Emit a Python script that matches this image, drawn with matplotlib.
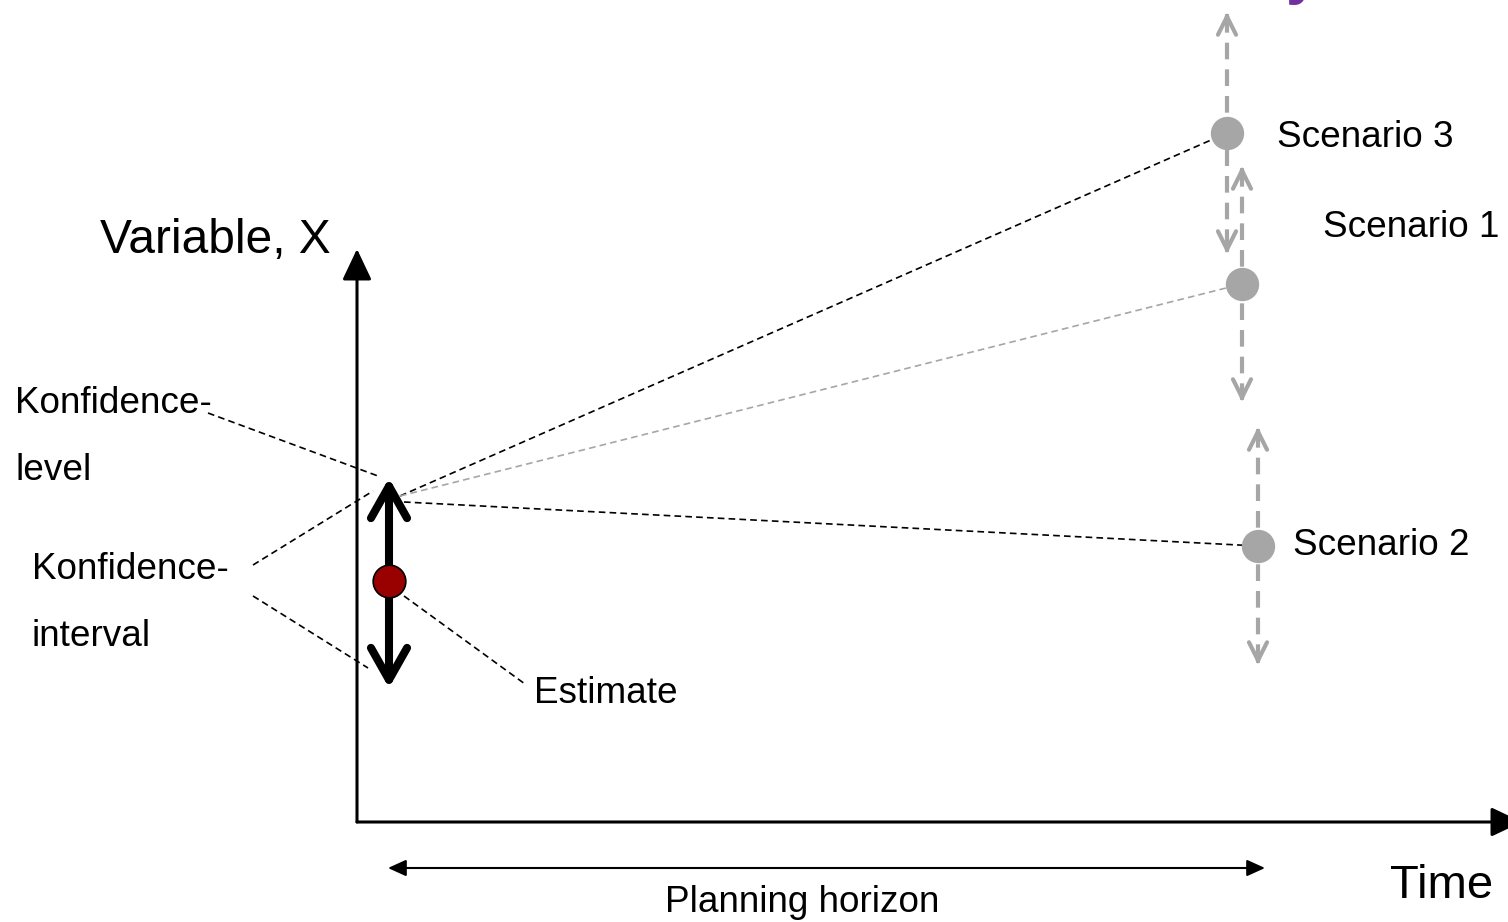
import matplotlib
matplotlib.use("Agg")
import matplotlib.pyplot as plt
from matplotlib.patches import ArrowStyle

plt.rcParams['font.family'] = ['Liberation Sans', 'DejaVu Sans']

# schematic laid out in pixel units of the 1508x922 canvas (y grows downward)
origin = (357, 822)
y_axis_top = 249
x_axis_end = 1522

estimate_x = 389
estimate_y = 581
interval_top = 478
interval_bottom = 688

fan_start = [(400, 496), (400, 496), (404, 502)]
scenario_names = ['Scenario 3', 'Scenario 1', 'Scenario 2']
scenario_x = [1227, 1242, 1258]
scenario_y = [133, 284, 546]
scenario_spread = [121, 118, 119]
scenario_label_x = [1277, 1323, 1293]
scenario_label_y = [147, 237, 555]
fan_colors = ['black', '#A6A6A6', 'black']

horizon_start = 388
horizon_end = 1265
horizon_y = 868

GRAY = '#A6A6A6'
FS = 26.6

fig = plt.figure(figsize=(15.08, 9.22), dpi=100)
ax = fig.add_axes([0, 0, 1, 1])
ax.set_xlim(0, 1508)
ax.set_ylim(922, 0)
ax.axis('off')


def arrow(p0, p1, style, **kw):
    ax.annotate('', xy=p1, xytext=p0, annotation_clip=False,
                arrowprops=dict(arrowstyle=style, shrinkA=0, shrinkB=0,
                                mutation_scale=1, **kw))


# axes of the schematic
arrow(origin, (origin[0], y_axis_top),
      ArrowStyle('-|>', head_length=19, head_width=9), lw=2.2, color='black')
arrow(origin, (x_axis_end, origin[1]),
      ArrowStyle('-|>', head_length=19, head_width=9), lw=2.2, color='black')
ax.text(100, 253, 'Variable, X', fontsize=34.5, va='baseline')
ax.text(1390, 898, 'Time', fontsize=34, va='baseline')

# planning horizon
arrow((horizon_start, horizon_y), (horizon_end, horizon_y),
      ArrowStyle('<|-|>', head_length=11, head_width=5), lw=1.5, color='black')
ax.text(665, 912, 'Planning horizon', fontsize=FS, va='baseline')

# fan of scenario lines
for (sx, sy), x, y, c in zip(fan_start, scenario_x, scenario_y, fan_colors):
    ax.plot([sx, x], [sy, y], color=c, lw=1.2, linestyle=(0, (4, 2.5)), zorder=2)

# scenario points with their uncertainty ranges
for name, x, y, d, lx, ly in zip(scenario_names, scenario_x, scenario_y,
                                 scenario_spread, scenario_label_x, scenario_label_y):
    ax.plot([x, x], [y - d + 4, y + d - 4], color=GRAY, lw=3,
            linestyle=(0, (4, 2.4)), zorder=3)
    head = ArrowStyle('->', head_length=13, head_width=6.5)
    arrow((x, y - d + 6), (x, y - d), head, lw=3, color=GRAY)
    arrow((x, y + d - 6), (x, y + d), head, lw=3, color=GRAY)
    ax.plot(x, y, 'o', ms=24, color=GRAY, mec='none', zorder=5)
    ax.text(lx, ly, name, fontsize=FS, va='baseline')

# leader lines for the labels on the left
dash = (0, (4, 2.5))
ax.plot([208, 378], [413, 476], color='black', lw=1.2, linestyle=dash)
ax.plot([253, 373], [565, 491], color='black', lw=1.2, linestyle=dash)
ax.plot([253, 368], [596, 668], color='black', lw=1.2, linestyle=dash)
ax.plot([404, 525], [596, 684], color='black', lw=1.2, linestyle=dash)

ax.text(15, 413, 'Konfidence-', fontsize=FS, va='baseline')
ax.text(15, 480, 'level', fontsize=FS, va='baseline')
ax.text(32, 579, 'Konfidence-', fontsize=FS, va='baseline')
ax.text(32, 646, 'interval', fontsize=FS, va='baseline')
ax.text(534, 703, 'Estimate', fontsize=FS, va='baseline')

# estimate with its confidence interval
arrow((estimate_x, interval_bottom), (estimate_x, interval_top),
      ArrowStyle('<->', head_length=23, head_width=13), lw=5.8, color='black',
      zorder=6)
ax.plot(estimate_x, estimate_y, 'o', ms=23.5, mfc='#990000', mec='black',
        mew=1.2, zorder=7)

# cut-off purple title fragment at the top edge
ax.text(1286, -8, 'y', fontsize=44, fontweight='bold', color='#7030A0',
        va='baseline', clip_on=False)

fig.savefig('out.png', dpi=100)
